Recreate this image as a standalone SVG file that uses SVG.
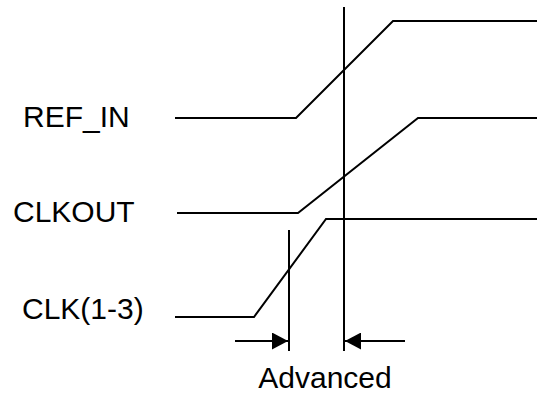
<svg xmlns="http://www.w3.org/2000/svg" width="537" height="394" viewBox="0 0 537 394">
<defs>
<style>
.w{fill:none;stroke:#000;stroke-width:2}
.t{font-family:"Liberation Sans",Arial,sans-serif;font-size:30px;fill:#000}
</style>
<marker id="ah" markerWidth="16" markerHeight="17" refX="16" refY="8.5" orient="auto" markerUnits="userSpaceOnUse">
<path d="M0,0 L16,8.5 L0,17 Z" fill="#000"/>
</marker>
</defs>
<rect width="537" height="394" fill="#fff"/>
<g id="ref_in">
<text class="t" x="23" y="127">REF_IN</text>
<polyline class="w" points="175,118 296,118 393,21 537,21"/>
</g>
<g id="clkout">
<text class="t" x="13" y="222">CLKOUT</text>
<polyline class="w" points="177,213 298,213 418,118 537,118"/>
</g>
<g id="clk13">
<text class="t" x="22" y="319">CLK(1-3)</text>
<polyline class="w" points="175,317 254,317 326,219 537,219"/>
</g>
<g id="connectors">
<line class="w" x1="344" y1="7" x2="344" y2="351"/>
<line class="w" x1="289" y1="230" x2="289" y2="351"/>
<line class="w" x1="235" y1="341" x2="288" y2="341" marker-end="url(#ah)"/>
<line class="w" x1="405" y1="341" x2="345" y2="341" marker-end="url(#ah)"/>
</g>
<text class="t" x="325" y="388" text-anchor="middle">Advanced</text>
</svg>
